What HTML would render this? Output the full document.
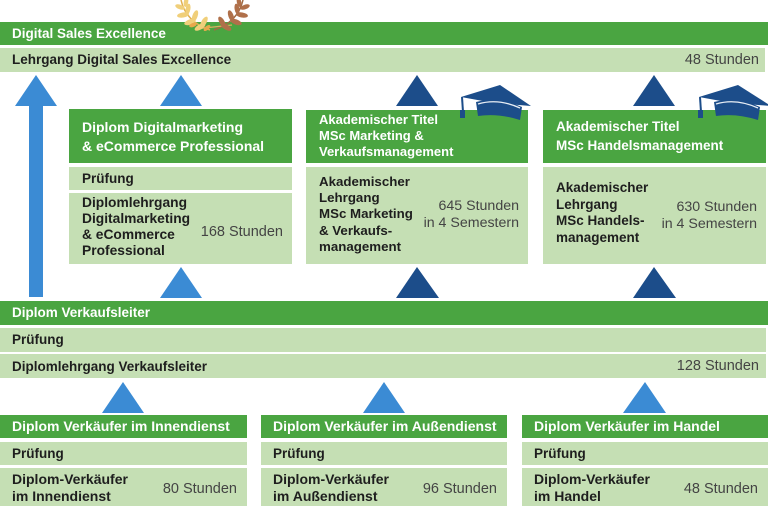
<!DOCTYPE html>
<html><head><meta charset="utf-8">
<style>
html,body{margin:0;padding:0;background:#fff;}
body{width:768px;height:506px;position:relative;overflow:hidden;font-family:"Liberation Sans",sans-serif;}
.g{position:absolute;background:#4aa541;}
.l{position:absolute;background:#c5dfb4;}
.t{position:absolute;font-weight:bold;font-size:13.5px;white-space:nowrap;color:#1e1e1e;}
.w{color:#fff;}
.r{position:absolute;font-weight:normal;font-size:14.5px;white-space:nowrap;color:#444;text-align:right;}
svg{position:absolute;left:0;top:0;}
</style></head><body>

<!-- top bars -->
<div class="g" style="left:0;top:22px;width:768px;height:23px"></div>
<div class="t w" style="left:12px;top:22px;line-height:23px">Digital Sales Excellence</div>
<div class="l" style="left:0;top:48px;width:765px;height:24px"></div>
<div class="t" style="left:12px;top:48px;line-height:24px">Lehrgang Digital Sales Excellence</div>
<div class="r" style="right:9px;top:48px;line-height:24px">48 Stunden</div>

<!-- box 1 -->
<div class="g" style="left:69px;top:109px;width:223px;height:54px"></div>
<div class="t w" style="left:82px;top:118px;line-height:19px;font-size:14px">Diplom Digitalmarketing<br>&amp; eCommerce Professional</div>
<div class="l" style="left:69px;top:167px;width:223px;height:23px"></div>
<div class="t" style="left:82px;top:167px;line-height:23px">Prüfung</div>
<div class="l" style="left:69px;top:193px;width:223px;height:71px"></div>
<div class="t" style="left:82px;top:195px;line-height:16px;font-size:13.8px">Diplomlehrgang<br>Digitalmarketing<br>&amp; eCommerce<br>Professional</div>
<div class="r" style="right:485px;top:223px;line-height:18px">168 Stunden</div>

<!-- box 2 -->
<div class="g" style="left:306px;top:110px;width:222px;height:53px"></div>
<div class="t w" style="left:319px;top:112px;line-height:16px;font-size:13px">Akademischer Titel<br>MSc Marketing &amp;<br>Verkaufsmanagement</div>
<div class="l" style="left:306px;top:167px;width:222px;height:97px"></div>
<div class="t" style="left:319px;top:174px;line-height:16.2px;font-size:13.3px">Akademischer<br>Lehrgang<br>MSc Marketing<br>&amp; Verkaufs-<br>management</div>
<div class="r" style="right:249px;top:198px;line-height:17px;font-size:14.2px">645 Stunden<br>in 4 Semestern</div>

<!-- box 3 -->
<div class="g" style="left:543px;top:110px;width:223px;height:53px"></div>
<div class="t w" style="left:556px;top:118px;line-height:18.5px">Akademischer Titel<br>MSc Handelsmanagement</div>
<div class="l" style="left:543px;top:167px;width:223px;height:97px"></div>
<div class="t" style="left:556px;top:180px;line-height:16.7px;font-size:13.5px">Akademischer<br>Lehrgang<br>MSc Handels-<br>management</div>
<div class="r" style="right:11px;top:199px;line-height:17px;font-size:14.2px">630 Stunden<br>in 4 Semestern</div>

<!-- middle bars -->
<div class="g" style="left:0;top:301px;width:768px;height:24px"></div>
<div class="t w" style="left:12px;top:301px;line-height:24px">Diplom Verkaufsleiter</div>
<div class="l" style="left:0;top:328px;width:766px;height:24px"></div>
<div class="t" style="left:12px;top:328px;line-height:23px">Prüfung</div>
<div class="l" style="left:0;top:354px;width:766px;height:24px"></div>
<div class="t" style="left:12px;top:354px;line-height:25px">Diplomlehrgang Verkaufsleiter</div>
<div class="r" style="right:9px;top:354px;line-height:25px">128 Stunden</div>

<!-- bottom box 1 -->
<div class="g" style="left:0;top:415px;width:247px;height:23px"></div>
<div class="t w" style="left:12px;top:415px;line-height:23px;font-size:14px">Diplom Verkäufer im Innendienst</div>
<div class="l" style="left:0;top:442px;width:247px;height:23px"></div>
<div class="t" style="left:12px;top:442px;line-height:23px">Prüfung</div>
<div class="l" style="left:0;top:468px;width:247px;height:38px"></div>
<div class="t" style="left:12px;top:471px;line-height:17px;font-size:14px">Diplom-Verkäufer<br>im Innendienst</div>
<div class="r" style="right:531px;top:480px;line-height:18px">80 Stunden</div>

<!-- bottom box 2 -->
<div class="g" style="left:261px;top:415px;width:246px;height:23px"></div>
<div class="t w" style="left:273px;top:415px;line-height:23px;font-size:14px">Diplom Verkäufer im Außendienst</div>
<div class="l" style="left:261px;top:442px;width:246px;height:23px"></div>
<div class="t" style="left:273px;top:442px;line-height:23px">Prüfung</div>
<div class="l" style="left:261px;top:468px;width:246px;height:38px"></div>
<div class="t" style="left:273px;top:471px;line-height:17px;font-size:14px">Diplom-Verkäufer<br>im Außendienst</div>
<div class="r" style="right:271px;top:480px;line-height:18px">96 Stunden</div>

<!-- bottom box 3 -->
<div class="g" style="left:522px;top:415px;width:246px;height:23px"></div>
<div class="t w" style="left:534px;top:415px;line-height:23px;font-size:14px">Diplom Verkäufer im Handel</div>
<div class="l" style="left:522px;top:442px;width:246px;height:23px"></div>
<div class="t" style="left:534px;top:442px;line-height:23px">Prüfung</div>
<div class="l" style="left:522px;top:468px;width:246px;height:38px"></div>
<div class="t" style="left:534px;top:471px;line-height:17px;font-size:14px">Diplom-Verkäufer<br>im Handel</div>
<div class="r" style="right:10px;top:480px;line-height:18px">48 Stunden</div>

<svg width="768" height="506" viewBox="0 0 768 506">
  <!-- big arrow -->
  <polygon points="15,106 36,75 57,106 43,106 43,297 29,297 29,106" fill="#3b8bd4"/>
  <!-- light blue triangles -->
  <g fill="#3b8bd4">
    <polygon points="160,106 181,75 202,106"/>
    <polygon points="160,298 181,267 202,298"/>
    <polygon points="102,413 123,382 144,413"/>
    <polygon points="363,413 384,382 405,413"/>
    <polygon points="623,413 645,382 666,413"/>
  </g>
  <!-- dark blue triangles -->
  <g fill="#1c4d8a">
    <polygon points="396,106 417,75 438,106"/>
    <polygon points="633,106 654,75 675,106"/>
    <polygon points="396,298 417,267 439,298"/>
    <polygon points="633,298 654,267 676,298"/>
  </g>
  <!-- grad caps -->
  <g>
    <path d="M476,102 Q498,96 522,107 L520,120 Q498,113 478,116 Z" fill="#1c4d8a"/>
    <polygon points="461,97 500,85 531,106 494,103" fill="#1c4d8a"/>
    <path d="M478,104 Q498,98 520,108" stroke="#e8eef5" stroke-width="1.3" fill="none"/>
    <line x1="462" y1="97" x2="463" y2="112" stroke="#1c4d8a" stroke-width="2"/>
    <rect x="460" y="110" width="5" height="8" fill="#1c4d8a"/>
  </g>
  <g transform="translate(238,0)">
    <path d="M476,102 Q498,96 522,107 L520,120 Q498,113 478,116 Z" fill="#1c4d8a"/>
    <polygon points="461,97 500,85 533,106 494,103" fill="#1c4d8a"/>
    <path d="M478,104 Q498,98 520,108" stroke="#e8eef5" stroke-width="1.3" fill="none"/>
    <line x1="462" y1="97" x2="463" y2="112" stroke="#1c4d8a" stroke-width="2"/>
    <rect x="460" y="110" width="5" height="8" fill="#1c4d8a"/>
  </g>
  <!-- laurel -->
  <g>
    <path d="M210,30 Q186,22 181,0" stroke="#e0b050" stroke-width="1.5" fill="none"/>
    <path d="M214,30 Q238,22 243,0" stroke="#a06a44" stroke-width="1.5" fill="none"/>
    <line x1="195" y1="29" x2="232" y2="25" stroke="#d8b060" stroke-width="1.3"/>
    <g fill="#f0cf7a">
      <ellipse cx="200" cy="27" rx="6" ry="2.6" transform="rotate(-30 200 27)"/>
      <ellipse cx="204" cy="22" rx="6" ry="2.6" transform="rotate(-60 204 22)"/>
      <ellipse cx="190" cy="22" rx="6" ry="2.6" transform="rotate(-20 190 22)"/>
      <ellipse cx="195" cy="16" rx="6" ry="2.6" transform="rotate(-70 195 16)"/>
      <ellipse cx="183" cy="15" rx="6" ry="2.6" transform="rotate(-10 183 15)"/>
      <ellipse cx="188" cy="9" rx="5.5" ry="2.4" transform="rotate(-80 188 9)"/>
      <ellipse cx="180" cy="7" rx="5" ry="2.3" transform="rotate(20 180 7)"/>
      <ellipse cx="186" cy="2" rx="5" ry="2.2" transform="rotate(-80 186 2)"/>
    </g>
    <g fill="#e8a84c">
      <ellipse cx="207" cy="28" rx="4" ry="2" transform="rotate(-40 207 28)"/>
      <ellipse cx="193" cy="25" rx="4" ry="2" transform="rotate(-20 193 25)"/>
    </g>
    <g fill="#b0704a">
      <ellipse cx="226" cy="27" rx="6" ry="2.6" transform="rotate(30 226 27)"/>
      <ellipse cx="222" cy="22" rx="6" ry="2.6" transform="rotate(60 222 22)"/>
      <ellipse cx="236" cy="22" rx="6" ry="2.6" transform="rotate(20 236 22)"/>
      <ellipse cx="231" cy="16" rx="6" ry="2.6" transform="rotate(70 231 16)"/>
      <ellipse cx="242" cy="15" rx="6" ry="2.6" transform="rotate(10 242 15)"/>
      <ellipse cx="237" cy="9" rx="5.5" ry="2.4" transform="rotate(80 237 9)"/>
      <ellipse cx="245" cy="7" rx="5" ry="2.3" transform="rotate(-20 245 7)"/>
      <ellipse cx="239" cy="2" rx="5" ry="2.2" transform="rotate(80 239 2)"/>
    </g>
  </g>
</svg>
</body></html>
